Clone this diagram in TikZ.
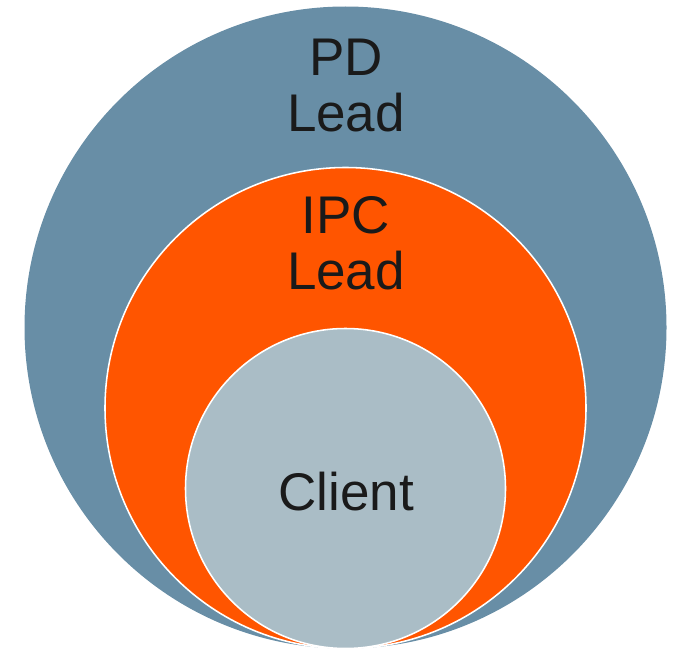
\documentclass[tikz,border=0pt]{standalone}
\usepackage{fontspec}
\setmainfont{Liberation Sans}
\definecolor{pdblue}{RGB}{104,142,166}
\definecolor{ipcorange}{RGB}{255,85,0}
\definecolor{clientgray}{RGB}{170,189,198}
\definecolor{labelink}{RGB}{26,26,26}
\begin{document}
\begin{tikzpicture}[x=0.025cm,y=-0.025cm]
\tikzstyle{every node}+=[inner sep=0pt,text=labelink,align=center,font=\fontsize{37.7}{39.8}\selectfont]
\tikzstyle{ring}=[draw=white,line width=1.1pt]
\useasboundingbox (0,0) rectangle (682,650);
\fill [pdblue] (345.5,327.5) circle (321);
\draw [ring,fill=ipcorange] (345.5,408) circle (240.5);
\draw [ring,fill=clientgray] (345.5,488.5) circle (160);
\node (pd) [anchor=north] at (346,39) {PD\\Lead};
\node (ipc) [anchor=north] at (346,196) {IPC\\Lead};
\node (client) [anchor=base] at (346,510) {Client};
\end{tikzpicture}
\end{document}
